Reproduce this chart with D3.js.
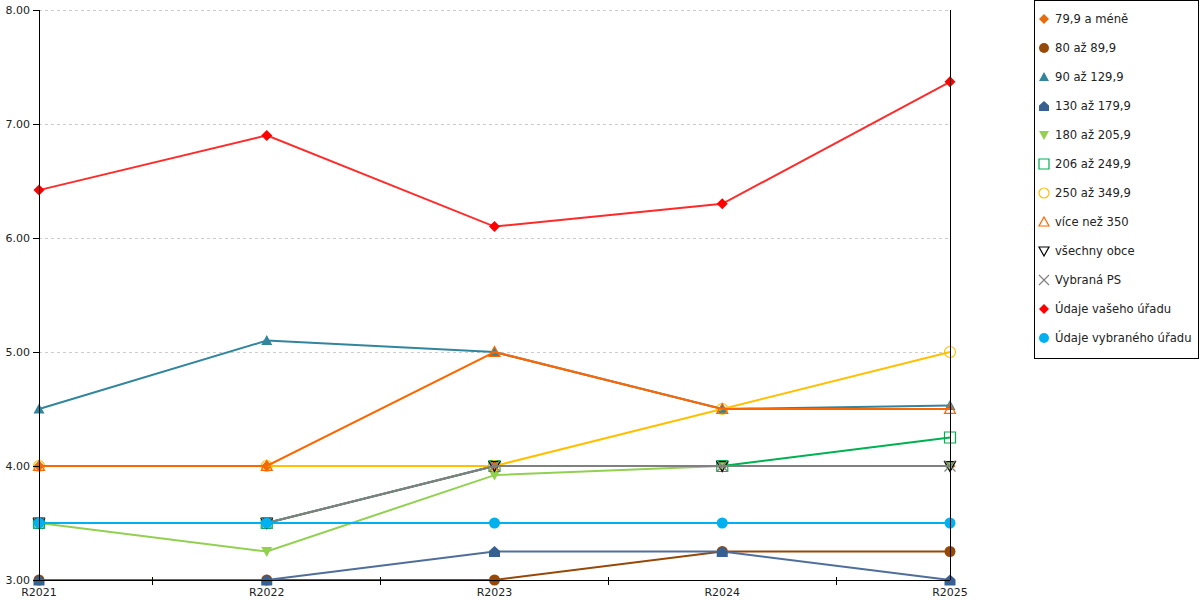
<!DOCTYPE html>
<html>
<head>
<meta charset="utf-8">
<script src="https://cdn.jsdelivr.net/npm/d3@7"></script>
<style>
  body { margin: 0; background: #fff; }
  text { font-family: "DejaVu Sans", Verdana, sans-serif; font-size: 11px; fill: #222; }
  .legend text { font-size: 11.6px; }
</style>
</head>
<body>
<div id="main"></div>
<script>
var years = ["R2021", "R2022", "R2023", "R2024", "R2025"];
var yTicks = [3, 4, 5, 6, 7, 8];

var seriesNames = [
    "79,9 a méně", "80 až 89,9", "90 až 129,9", "130 až 179,9",
    "180 až 205,9", "206 až 249,9", "250 až 349,9", "více než 350",
    "všechny obce", "Vybraná PS", "Údaje vašeho úřadu", "Údaje vybraného úřadu"
];

var v79 = [4.0, 4.0, 4.0, 4.0, 4.0];
var v80 = [3.0, 3.0, 3.0, 3.25, 3.25];
var v90 = [4.5, 5.1, 5.0, 4.5, 4.53];
var v130 = [3.0, 3.0, 3.25, 3.25, 3.0];
var v180 = [3.5, 3.25, 3.92, 4.0, 4.0];
var v206 = [3.5, 3.5, 4.0, 4.0, 4.25];
var v250 = [4.0, 4.0, 4.0, 4.5, 5.0];
var v350 = [4.0, 4.0, 5.0, 4.5, 4.5];
var vAll = [3.5, 3.5, 4.0, 4.0, 4.0];
var vPS = [3.5, 3.5, 4.0, 4.0, 4.0];
var vOffice = [6.42, 6.9, 6.1, 6.3, 7.37];
var vSelOffice = [3.5, 3.5, 3.5, 3.5, 3.5];

// style per series: marker shape, marker fill, marker stroke, line colour
var styles = [
    { shape: "diamond", fill: "#e46c0a", stroke: "none", line: "#e46c0a" },
    { shape: "circle", fill: "#974806", stroke: "none", line: "#974806" },
    { shape: "triangle", fill: "#31859c", stroke: "none", line: "#31859c" },
    { shape: "house", fill: "#376092", stroke: "none", line: "#4f6f9a" },
    { shape: "triangleDown", fill: "#92d050", stroke: "none", line: "#92d050" },
    { shape: "square", fill: "none", stroke: "#00b050", line: "#00b050" },
    { shape: "circle", fill: "none", stroke: "#ffc000", line: "#ffc000" },
    { shape: "triangle", fill: "none", stroke: "#ff6600", line: "#ff6600" },
    { shape: "triangleDown", fill: "none", stroke: "#000000", line: "#6e7676" },
    { shape: "x", fill: "none", stroke: "#808080", line: "#808080" },
    { shape: "diamond", fill: "#ff0000", stroke: "none", line: "#ff2a2a" },
    { shape: "circle", fill: "#00b0f0", stroke: "none", line: "#00b0f0" }
];

var seriesValues = [v79, v80, v90, v130, v180, v206, v250, v350, vAll, vPS, vOffice, vSelOffice];

var cfg = { width: 1200, height: 600, left: 39, right: 950, top: 10, bottom: 580 };

var x = d3.scalePoint().domain(years).range([cfg.left, cfg.right]);
var y = d3.scaleLinear().domain([3, 8]).range([cfg.bottom, cfg.top]);

function shapePath(type, r) {
    switch (type) {
        case "diamond":
            return "M0," + -r + "L" + r + ",0L0," + r + "L" + -r + ",0Z";
        case "circle":
            return d3.arc()({ innerRadius: 0, outerRadius: r, startAngle: 0, endAngle: 2 * Math.PI });
        case "triangle":
            return "M0," + -r + "L" + r + "," + r * 0.8 + "L" + -r + "," + r * 0.8 + "Z";
        case "triangleDown":
            return "M0," + r + "L" + r + "," + -r * 0.8 + "L" + -r + "," + -r * 0.8 + "Z";
        case "house":
            return "M0," + -r + "L" + r + "," + -r * 0.1 + "L" + r + "," + r + "L" + -r + "," + r + "L" + -r + "," + -r * 0.1 + "Z";
        case "square":
            return "M" + -r + "," + -r + "h" + 2 * r + "v" + 2 * r + "h" + -2 * r + "Z";
        case "x":
            return "M" + -r + "," + -r + "L" + r + "," + r + "M" + r + "," + -r + "L" + -r + "," + r;
    }
}

function drawMarker(g, st, r) {
    g.append("path")
        .attr("d", shapePath(st.shape, r))
        .attr("fill", st.fill)
        .attr("stroke", st.stroke)
        .attr("stroke-width", st.stroke === "none" ? 0 : 1.2);
}

var svg = d3.select("#main").append("svg")
    .attr("width", cfg.width)
    .attr("height", cfg.height);

// grid
svg.append("g").selectAll("line")
    .data(yTicks.slice(1))
    .enter().append("line")
    .attr("x1", cfg.left).attr("x2", cfg.right)
    .attr("y1", function (d) { return y(d) + 0.5; })
    .attr("y2", function (d) { return y(d) + 0.5; })
    .attr("stroke", "#cccccc")
    .attr("stroke-dasharray", "3,3");

// series
var line = d3.line()
    .x(function (d, i) { return x(years[i]); })
    .y(function (d) { return y(d); });

seriesValues.forEach(function (vals, si) {
    var st = styles[si];
    var g = svg.append("g");
    g.append("path")
        .attr("d", line(vals))
        .attr("fill", "none")
        .attr("stroke", st.line)
        .attr("stroke-width", 2);
    vals.forEach(function (v, i) {
        var m = g.append("g").attr("transform", "translate(" + x(years[i]) + "," + y(v) + ")");
        drawMarker(m, st, 5.5);
    });
});

// axes
var axes = svg.append("g").attr("stroke", "#000").attr("shape-rendering", "crispEdges");
axes.append("line").attr("x1", cfg.left).attr("x2", cfg.left).attr("y1", cfg.top).attr("y2", cfg.bottom);
axes.append("line").attr("x1", cfg.right).attr("x2", cfg.right).attr("y1", cfg.top).attr("y2", cfg.bottom);
axes.append("line").attr("x1", cfg.left).attr("x2", cfg.right).attr("y1", cfg.bottom).attr("y2", cfg.bottom);

axes.selectAll(".ytick")
    .data(yTicks)
    .enter().append("line")
    .attr("x1", cfg.left - 6).attr("x2", cfg.left)
    .attr("y1", function (d) { return y(d); })
    .attr("y2", function (d) { return y(d); });

var mids = d3.range(years.length - 1).map(function (i) {
    return (x(years[i]) + x(years[i + 1])) / 2;
});
axes.selectAll(".xtick")
    .data(mids)
    .enter().append("line")
    .attr("x1", function (d) { return d; })
    .attr("x2", function (d) { return d; })
    .attr("y1", cfg.bottom - 3).attr("y2", cfg.bottom + 5);

svg.append("g").selectAll("text")
    .data(yTicks)
    .enter().append("text")
    .attr("x", cfg.left - 9)
    .attr("y", function (d) { return y(d); })
    .attr("dy", "0.35em")
    .attr("text-anchor", "end")
    .text(function (d) { return d3.format(".2f")(d); });

svg.append("g").selectAll("text")
    .data(years)
    .enter().append("text")
    .attr("x", function (d) { return x(d); })
    .attr("y", cfg.bottom + 16)
    .attr("text-anchor", "middle")
    .text(function (d) { return d; });

// legend
var legend = svg.append("g").attr("class", "legend");
legend.append("rect")
    .attr("x", 1034.5).attr("y", 0.5)
    .attr("width", 164).attr("height", 358)
    .attr("fill", "#fff").attr("stroke", "#000");

seriesNames.forEach(function (name, i) {
    var ly = 19 + i * 29;
    var m = legend.append("g").attr("transform", "translate(1044," + ly + ")");
    drawMarker(m, styles[i], 5);
    legend.append("text")
        .attr("x", 1055)
        .attr("y", ly)
        .attr("dy", "0.35em")
        .text(name);
});
</script>
</body>
</html>
